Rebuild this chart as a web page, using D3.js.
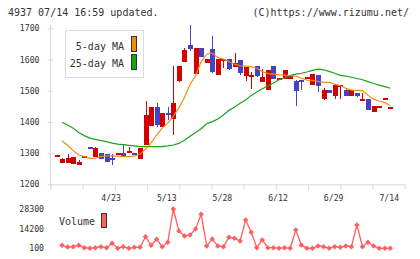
<!DOCTYPE html>
<html>
<head>
<meta charset="utf-8">
<script src="https://cdn.jsdelivr.net/npm/d3@7"></script>
<style>
  body { margin: 0; background: #fff; }
  svg { display: block; font-family: "DejaVu Sans Mono", monospace; }
</style>
</head>
<body>
<svg id="chart" width="420" height="259"></svg>
<script>
// Daily candles (61 sessions)
const opens = [1293, 1269, 1267, 1265, 1263, 1290, 1320, 1287, 1300, 1296,
  1285, 1299, 1299, 1299, 1300, 1282, 1326, 1388, 1447, 1385,
  1428, 1410, 1531, 1593, 1646, 1555, 1637, 1590, 1634, 1550,
  1600, 1601, 1577, 1597, 1547, 1549, 1579, 1529, 1503, 1579,
  1538, 1539, 1539, 1531, 1534, 1542, 1519, 1550, 1473, 1502,
  1484, 1513, 1502, 1484, 1492, 1471, 1472, 1433, 1446, 1475, 1446];
const highs = [1295, 1285, 1296, 1288, 1279, 1292, 1320, 1320, 1300, 1296,
  1296, 1301, 1326, 1319, 1300, 1317, 1468, 1448, 1460, 1428,
  1448, 1579, 1579, 1638, 1711, 1637, 1637, 1602, 1675, 1601,
  1602, 1601, 1621, 1597, 1575, 1559, 1579, 1569, 1566, 1579,
  1540, 1566, 1550, 1534, 1534, 1544, 1554, 1550, 1510, 1502,
  1518, 1518, 1507, 1502, 1492, 1494, 1472, 1450, 1450, 1477, 1448];
const lows = [1293, 1269, 1267, 1265, 1263, 1290, 1314, 1287, 1282, 1273,
  1262, 1299, 1291, 1299, 1295, 1282, 1326, 1388, 1385, 1385,
  1406, 1358, 1528, 1593, 1628, 1555, 1609, 1590, 1556, 1550,
  1572, 1567, 1575, 1549, 1531, 1506, 1545, 1529, 1503, 1539,
  1538, 1539, 1539, 1451, 1502, 1542, 1519, 1497, 1470, 1494,
  1474, 1474, 1484, 1484, 1480, 1471, 1438, 1433, 1446, 1475, 1446];
const closes = [1295, 1281, 1285, 1288, 1272, 1292, 1314, 1317, 1282, 1273,
  1280, 1301, 1292, 1307, 1295, 1317, 1422, 1448, 1390, 1428,
  1421, 1460, 1579, 1630, 1634, 1637, 1609, 1602, 1561, 1601,
  1602, 1570, 1589, 1556, 1575, 1551, 1548, 1544, 1566, 1539,
  1540, 1566, 1550, 1500, 1528, 1544, 1554, 1516, 1502, 1494,
  1518, 1518, 1484, 1502, 1484, 1473, 1438, 1450, 1450, 1477, 1448];

// Moving averages as drawn (first session has none)
const ma5 = [null, 1339, 1325, 1308, 1294, 1289, 1283, 1284, 1289, 1291, 1291,
  1290, 1289, 1289, 1290, 1297, 1312, 1333, 1358, 1380, 1396,
  1418, 1445, 1478, 1520, 1548, 1593, 1617, 1620, 1606, 1601,
  1593, 1585, 1580, 1579, 1577, 1572, 1561, 1555, 1553, 1551,
  1550, 1548, 1547, 1540, 1534, 1533, 1530, 1527, 1527, 1521,
  1516, 1508, 1502, 1501, 1500, 1485, 1473, 1467, 1462, 1452];
const ma25 = [null, 1399, 1390, 1380, 1366, 1356, 1348, 1344, 1340, 1337, 1332,
  1329, 1327, 1325, 1323, 1321, 1321, 1321, 1321, 1321, 1323,
  1326, 1331, 1341, 1354, 1366, 1378, 1394, 1401, 1409, 1422,
  1437, 1447, 1460, 1470, 1485, 1496, 1506, 1515, 1525, 1535,
  1541, 1549, 1553, 1556, 1560, 1565, 1569, 1567, 1562, 1556,
  1549, 1547, 1543, 1539, 1535, 1529, 1523, 1518, 1513, 1508];

// Volume
const volumes = [null, 2250, 1000, 1250, 2250, 530, 100, 530, 1250, 530, 3700,
  100, 1250, 100, 800, 800, 8400, 2250, 6550, 1250, 4400,
  28300, 12500, 8900, 9600, 14000, 24500, 1750, 6800, 1750, 1250,
  8000, 7300, 5350, 20400, 11600, 530, 6000, 530, 530, 100,
  530, 100, 13200, 2500, 100, 100, 1750, 1250, 100, 1250,
  800, 1750, 1250, 16800, 1250, 4400, 1750, 100, 100, 100];

// Axis labels
const priceTicks = [1200, 1300, 1400, 1500, 1600, 1700];
const volumeTicks = [100, 14200, 28300];
const dateLabels = ["4/23", "5/13", "5/28", "6/12", "6/29", "7/14"];
const dateIndex = [10, 20, 30, 40, 50, 60];

const svg = d3.select("#chart");
const axisColor = "#d9d9d9";
const textColor = "#333";
const upColor = "#d40000";
const downColor = "#4343c3";

const candles = closes.map((c, i) => ({
  i, open: opens[i], high: highs[i], low: lows[i], close: c,
}));

// Scales
const x = d3.scaleLinear().domain([0, closes.length - 1]).range([56.5, 390.3]);
const y = d3.scaleLinear().domain([1200, 1700]).range([184.3, 28.3]);
const yVol = d3.scaleLinear().domain([100, 28300]).range([248.3, 209]);
const gridX = d3.scaleLinear().domain([0, 11]).range([50.5, 404.7]);

// Header texts
svg.append("text")
  .attr("x", 8).attr("y", 16)
  .attr("font-size", "10px").attr("fill", textColor)
  .text("4937 07/14 16:59 updated.");
svg.append("text")
  .attr("x", 409).attr("y", 16)
  .attr("text-anchor", "end")
  .attr("font-size", "10px").attr("fill", textColor)
  .text("(C)https://www.rizumu.net/");

// Draw x axis (plain ticks)
const xAxis = svg.append("g")
  .attr("transform", `translate(0, ${y(1200)})`)
  .call(d3.axisBottom(gridX).tickValues(d3.range(12)).tickFormat("").tickSize(5).tickSizeOuter(0));
xAxis.select(".domain").attr("stroke", axisColor);
xAxis.selectAll(".tick line").attr("stroke", axisColor);

// Draw y axis line and cross ticks
svg.append("line")
  .attr("x1", 50.5).attr("x2", 50.5)
  .attr("y1", 25).attr("y2", 189)
  .attr("stroke", axisColor);
const yAxis = svg.append("g")
  .attr("transform", "translate(50.5, 0)")
  .call(d3.axisLeft(y).tickValues(priceTicks).tickFormat(d3.format("d")).tickSize(3).tickPadding(8));
yAxis.select(".domain").remove();
yAxis.selectAll(".tick line").attr("x2", -3).attr("x1", 3).attr("stroke", axisColor);
yAxis.selectAll(".tick text")
  .attr("font-family", "DejaVu Sans Mono, monospace")
  .attr("font-size", "8.2px")
  .attr("fill", textColor);

// Date labels
svg.append("g")
  .selectAll("text")
  .data(dateLabels)
  .join("text")
  .attr("x", (d, k) => x(dateIndex[k]) - 1)
  .attr("y", 201)
  .attr("text-anchor", "middle")
  .attr("font-size", "8.2px")
  .attr("fill", textColor)
  .text((d) => d);

// Draw candles
const candleG = svg.append("g").attr("shape-rendering", "crispEdges");
candleG.selectAll("line")
  .data(candles.filter((d) => d.high > Math.max(d.open, d.close) || d.low < Math.min(d.open, d.close)))
  .join("line")
  .attr("x1", (d) => Math.round(x(d.i)) + 0.5)
  .attr("x2", (d) => Math.round(x(d.i)) + 0.5)
  .attr("y1", (d) => y(d.high))
  .attr("y2", (d) => y(d.low))
  .attr("stroke", (d) => (d.close >= d.open ? upColor : downColor));
candleG.selectAll("rect")
  .data(candles)
  .join("rect")
  .attr("x", (d) => Math.round(x(d.i)) - 2)
  .attr("width", 5)
  .attr("y", (d) => y(Math.max(d.open, d.close)))
  .attr("height", (d) => Math.max(2, y(Math.min(d.open, d.close)) - y(Math.max(d.open, d.close))))
  .attr("fill", (d) => (d.close >= d.open ? upColor : downColor));

// Moving average lines
const maLine = d3.line()
  .defined((d) => d != null)
  .x((d, i) => x(i))
  .y((d) => y(d));
svg.append("path")
  .datum(ma25)
  .attr("d", maLine)
  .attr("fill", "none")
  .attr("stroke", "#19a319")
  .attr("stroke-width", 1.2);
svg.append("path")
  .datum(ma5)
  .attr("d", maLine)
  .attr("fill", "none")
  .attr("stroke", "#f08c10")
  .attr("stroke-width", 1.2);

// Legend
const legend = svg.append("g");
legend.append("rect")
  .attr("x", 65.5).attr("y", 30.5)
  .attr("width", 78).attr("height", 47)
  .attr("fill", "#fff")
  .attr("stroke", "#dcdcdc");
[["5-day MA", "#f08c10", 46, 36.5], ["25-day MA", "#19a319", 63, 54.5]].forEach(([label, color, ty, ry]) => {
  legend.append("text")
    .attr("x", 124).attr("y", ty)
    .attr("dy", "0.35em")
    .attr("text-anchor", "end")
    .attr("font-size", "10px")
    .attr("fill", textColor)
    .text(label);
  legend.append("rect")
    .attr("x", 131.5).attr("y", ry)
    .attr("width", 5).attr("height", 15)
    .attr("fill", color)
    .attr("stroke", "#333");
});

// Volume axis labels
svg.append("g")
  .selectAll("text")
  .data(volumeTicks)
  .join("text")
  .attr("x", 44)
  .attr("y", (d) => yVol(d))
  .attr("dy", "0.35em")
  .attr("text-anchor", "end")
  .attr("font-size", "8.2px")
  .attr("fill", textColor)
  .text((d) => d);

// Volume legend
svg.append("text")
  .attr("x", 59).attr("y", 221.5)
  .attr("dy", "0.35em")
  .attr("font-size", "10px")
  .attr("fill", textColor)
  .text("Volume");
svg.append("rect")
  .attr("x", 101.5).attr("y", 213.5)
  .attr("width", 5).attr("height", 14)
  .attr("fill", "#ff5f5f")
  .attr("stroke", "#333");

// Volume line and markers
const volPoints = volumes.map((v, i) => ({ i, v })).filter((d) => d.v != null);
svg.append("path")
  .datum(volPoints)
  .attr("d", d3.line().x((d) => x(d.i)).y((d) => yVol(d.v)))
  .attr("fill", "none")
  .attr("stroke", "#ff5f5f")
  .attr("stroke-width", 1.3);
svg.append("g")
  .selectAll("path")
  .data(volPoints)
  .join("path")
  .attr("d", d3.symbol(d3.symbolSquare, 15))
  .attr("transform", (d) => `translate(${x(d.i)}, ${yVol(d.v)}) rotate(45)`)
  .attr("fill", "#ff5f5f");
</script>
</body>
</html>
